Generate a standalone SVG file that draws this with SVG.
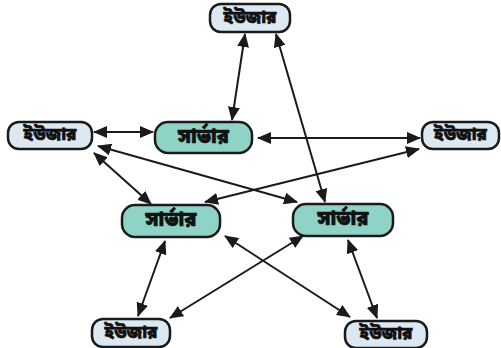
<svg xmlns="http://www.w3.org/2000/svg" width="501" height="348" viewBox="0 0 501 348">
<style>
.user rect{fill:#dce8f2;stroke:#1a1a1a;stroke-width:2.5}
.server rect{fill:#8fd3c6;stroke:#1a1a1a;stroke-width:2.5}
text{font-family:"Noto Sans Bengali","Noto Sans","DejaVu Sans",sans-serif;font-weight:900;fill:#111;text-anchor:middle;dominant-baseline:central;stroke:#111;stroke-width:0.6}
.user text{font-size:17px}
.server text{font-size:20px}
.edges line{stroke:#1a1a1a;stroke-width:2;marker-start:url(#ah);marker-end:url(#ah)}
</style>
<defs>
<marker id="ah" viewBox="0 0 14 12" refX="13" refY="6" markerWidth="14" markerHeight="12" markerUnits="userSpaceOnUse" orient="auto-start-reverse">
<path d="M0,0 L14,6 L0,12 z" fill="#1a1a1a"/>
</marker>
</defs>
<rect width="501" height="348" fill="#ffffff"/>
<g class="edges">
<line x1="245" y1="34" x2="232" y2="120"/>
<line x1="276" y1="34" x2="325" y2="202"/>
<line x1="94" y1="132" x2="153" y2="132"/>
<line x1="94" y1="153" x2="151" y2="204"/>
<line x1="98" y1="146" x2="297" y2="202"/>
<line x1="258" y1="138" x2="420" y2="138"/>
<line x1="419" y1="149" x2="205" y2="202"/>
<line x1="165" y1="241" x2="138" y2="316"/>
<line x1="225" y1="236" x2="350" y2="317"/>
<line x1="303" y1="236" x2="170" y2="318"/>
<line x1="348" y1="240" x2="377" y2="318"/>
</g>
<g id="user-top" class="user"><rect x="210" y="4" width="80" height="28" rx="11"/><text x="250" y="18">ইউজার</text></g>
<g id="user-left" class="user"><rect x="8" y="122" width="84" height="27" rx="11"/><text x="50" y="135.5">ইউজার</text></g>
<g id="user-right" class="user"><rect x="422" y="122" width="77" height="27" rx="11"/><text x="460.5" y="135.5">ইউজার</text></g>
<g id="user-bottom-left" class="user"><rect x="92" y="319" width="78" height="28" rx="11"/><text x="131" y="333">ইউজার</text></g>
<g id="user-bottom-right" class="user"><rect x="345" y="321" width="82" height="27" rx="11"/><text x="386" y="334.5">ইউজার</text></g>
<g id="server-top" class="server"><rect x="155" y="122" width="97" height="31" rx="13"/><text x="203.5" y="137.5">সার্ভার</text></g>
<g id="server-left" class="server"><rect x="122" y="205" width="98" height="32" rx="13"/><text x="171" y="221">সার্ভার</text></g>
<g id="server-right" class="server"><rect x="293" y="204" width="100" height="32" rx="13"/><text x="343" y="220">সার্ভার</text></g>
</svg>
